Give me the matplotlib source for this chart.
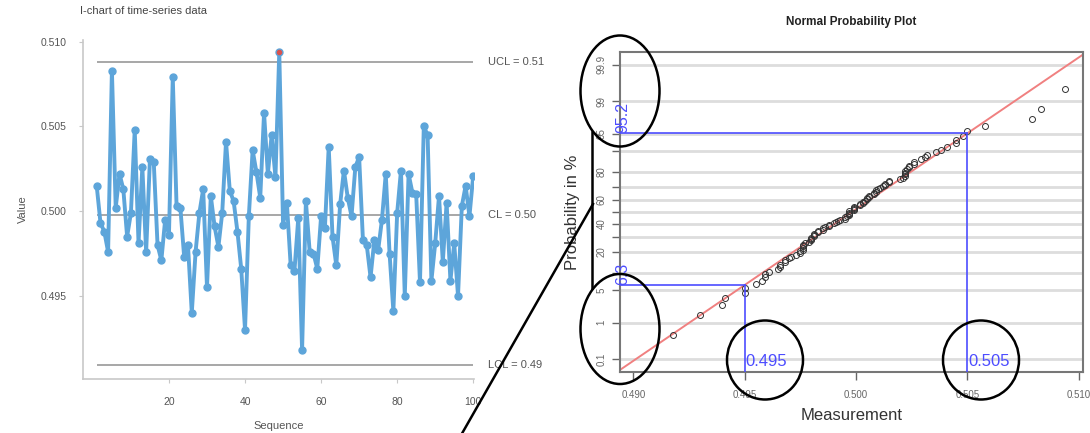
"""I-chart of a measurement series next to its normal probability plot."""

from statistics import NormalDist

import matplotlib.pyplot as plt
import numpy as np
from matplotlib.lines import Line2D
from matplotlib.patches import Ellipse

# individual measurements, in sampling order
values = [
    0.5015, 0.4993, 0.4988, 0.4976, 0.5083, 0.5002, 0.5022, 0.5013, 0.4985, 0.4999,
    0.5048, 0.4981, 0.5026, 0.4976, 0.5031, 0.5029, 0.4980, 0.4971, 0.4995, 0.4986,
    0.5079, 0.5003, 0.5002, 0.4973, 0.4980, 0.4940, 0.4976, 0.4999, 0.5013, 0.4955,
    0.5009, 0.4991, 0.4979, 0.4999, 0.5041, 0.5012, 0.5006, 0.4988, 0.4966, 0.4930,
    0.4997, 0.5036, 0.5023, 0.5008, 0.5058, 0.5022, 0.5045, 0.5020, 0.5094, 0.4992,
    0.5005, 0.4968, 0.4965, 0.4996, 0.4918, 0.5006, 0.4976, 0.4975, 0.4966, 0.4997,
    0.4990, 0.5038, 0.4985, 0.4968, 0.5004, 0.5024, 0.5008, 0.4997, 0.5026, 0.5032,
    0.4983, 0.4980, 0.4961, 0.4983, 0.4977, 0.4995, 0.5022, 0.4975, 0.4941, 0.4999,
    0.5024, 0.4950, 0.5022, 0.5011, 0.5010, 0.4958, 0.5050, 0.5045, 0.4959, 0.4981,
    0.5009, 0.4970, 0.5005, 0.4959, 0.4981, 0.4950, 0.5003, 0.5015, 0.4997, 0.5021,
]

# control limits of the I-chart
limits = [0.5088, 0.4998, 0.4909]
limit_labels = ["UCL = 0.51", "CL = 0.50", "LCL = 0.49"]

# probability axis (percent)
prob_ticks = [0.1, 1, 5, 10, 20, 30, 40, 50, 60, 70, 80, 90, 95, 99, 99.9]
prob_labels = ["0.1", "1", "5", "", "20", "", "40", "", "60", "", "80", "", "95", "99", "99.9"]
meas_ticks = [0.490, 0.495, 0.500, 0.505, 0.510]

# read-offs marked in blue: (measurement, cumulative percent)
readoffs = [(0.495, 6.3), (0.505, 95.2)]

W, H = 1090, 433
BLUE = "#5DA5DA"
MARK = (0.3, 0.3, 1.0)

plt.rcParams["font.family"] = ["Liberation Sans", "DejaVu Sans"]
fig = plt.figure(figsize=(W / 100, H / 100), dpi=100)


def px(x, y):
    return x / W, 1 - y / H


# ---- I-chart ----
ax = fig.add_axes([83 / W, 1 - 379 / H, (474 - 83) / W, (379 - 40) / H])
seq = np.arange(1, len(values) + 1)
vals = np.array(values)
ax.plot(seq, vals, color=BLUE, lw=2.8, marker="o", ms=5, solid_joinstyle="round", zorder=3)
out = vals > limits[0]
ax.plot(seq[out], vals[out], "o", color="#D9534F", ms=3, zorder=4)
for lim, lab in zip(limits, limit_labels):
    ax.hlines(lim, seq[0], seq[-1], color="#A0A0A0", lw=1.3, zorder=2)
    ax.text(104, lim, lab, fontsize=8, color="#555555", va="center", ha="left", clip_on=False)
ax.set_xlim(-2.6, 100.2)
ax.set_ylim(0.4901, 0.5101)
ax.set_xticks([20, 40, 60, 80, 100])
ax.set_yticks([0.495, 0.500, 0.505, 0.510])
ax.set_yticklabels(["0.495", "0.500", "0.505", "0.510"])
for side in ("top", "right"):
    ax.spines[side].set_visible(False)
for side in ("left", "bottom"):
    ax.spines[side].set_color("#C8C8C8")
    ax.spines[side].set_linewidth(1.2)
ax.tick_params(colors="#C8C8C8", labelcolor="#555555", labelsize=7.5, length=3)
ax.tick_params(axis="y", pad=9)
ax.tick_params(axis="x", pad=10)
ax.set_xlabel("Sequence", fontsize=8, color="#555555", labelpad=10)
ax.set_ylabel("Value", fontsize=8, color="#555555", labelpad=9)
fig.text(*px(80, 11), "I-chart of time-series data", fontsize=8, color="#444444", va="center")

# ---- normal probability plot ----
nd = NormalDist()
bx = fig.add_axes([620 / W, 1 - 372 / H, (1083 - 620) / W, (372 - 52) / H])
n = len(values)
pp = [(i - 0.5) / n for i in range(1, n + 1)]
z = np.array([nd.inv_cdf(p) for p in pp])
srt = np.sort(vals)
mu, sd = vals.mean(), vals.std(ddof=1)

zt = [nd.inv_cdf(t / 100) for t in prob_ticks]
for v in zt:
    bx.axhline(v, color="#DDDDDD", lw=2, zorder=0)
zz = np.array([-4, 4])
bx.plot(mu + sd * zz, zz, color="#F08080", lw=1.4, zorder=2)
bx.plot(srt, z, "o", mfc="none", mec="#333333", ms=4.3, mew=0.7, zorder=3)

x0, x1 = 0.4894, 0.5102
y0, y1 = -3.36, 3.36
for xm, pm in readoffs:
    zm = nd.inv_cdf(pm / 100)
    bx.plot([x0, xm], [zm, zm], color=MARK, lw=1.2, zorder=4)
    bx.plot([xm, xm], [zm, y0], color=MARK, lw=1.2, zorder=4)
    bx.text(x0 - 0.0002, zm, f"{pm:g}", rotation=90, color=MARK, fontsize=11.5,
            ha="left", va="bottom", zorder=5)
    bx.text(xm + 0.00003, y0 + 0.06, f"{xm:.3f}", color=MARK, fontsize=12,
            ha="left", va="bottom", zorder=5)

bx.set_xlim(x0, x1)
bx.set_ylim(y0, y1)
bx.set_yticks(zt)
bx.set_yticklabels(prob_labels, rotation=90, va="center")
bx.set_xticks(meas_ticks)
bx.set_xticklabels([f"{t:.3f}" for t in meas_ticks])
for s in bx.spines.values():
    s.set_color("#777777")
    s.set_linewidth(1.5)
bx.tick_params(colors="#666666", labelcolor="#666666", labelsize=7, length=6, width=1)
bx.tick_params(axis="x", pad=7)
bx.set_xlabel("Measurement", fontsize=12, color="#333333", labelpad=6)
bx.set_ylabel("Probability in %", fontsize=12, color="#333333", labelpad=12)
fig.text(*px(851, 22), "Normal Probability Plot", fontsize=8.5, weight="bold",
         color="#222222", ha="center", va="center")

# ---- hand-drawn callouts ----
for cx, cy, w, h in [(620, 91, 79, 111), (620, 329, 79, 110), (765, 360, 76, 79), (981, 360, 76, 79)]:
    fig.add_artist(Ellipse(px(cx, cy), w / W, h / H, transform=fig.transFigure,
                           fill=False, ec="black", lw=1.8, zorder=10))
for (xa, ya), (xb, yb) in [((592, 132), (592, 288)), ((593, 204), (460, 437))]:
    (fa, ga), (fb, gb) = px(xa, ya), px(xb, yb)
    fig.add_artist(Line2D([fa, fb], [ga, gb], transform=fig.transFigure,
                          color="black", lw=1.8, zorder=10))

fig.savefig("out.png", dpi=100)
